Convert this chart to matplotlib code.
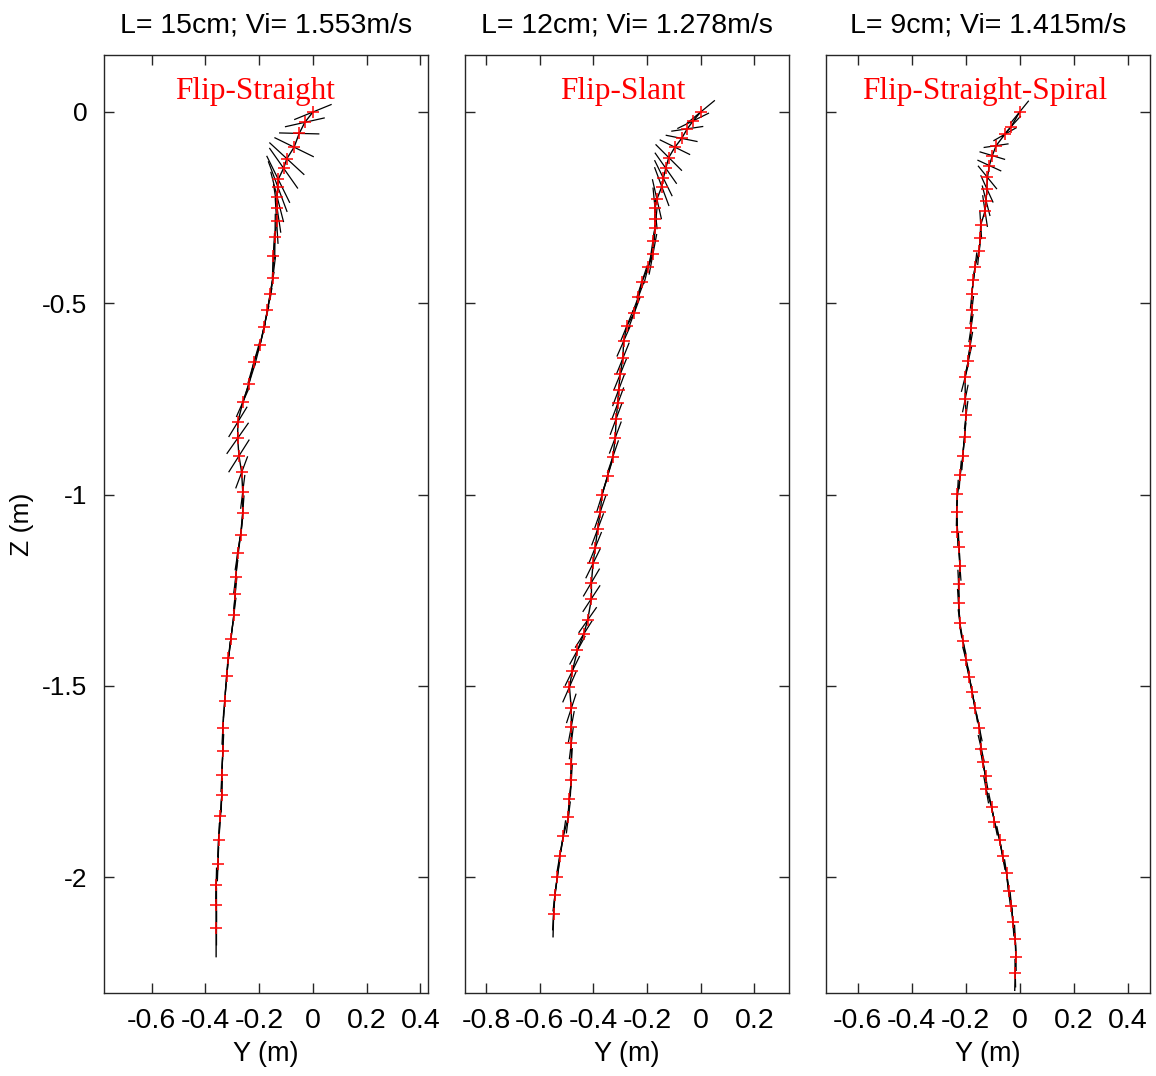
import numpy as np
import matplotlib
matplotlib.use('Agg')
import matplotlib.pyplot as plt
from matplotlib.collections import LineCollection

plt.rcParams['font.family'] = ['Liberation Sans', 'DejaVu Sans']
plt.rcParams['axes.unicode_minus'] = False

titles = ['L= 15cm; Vi= 1.553m/s', 'L= 12cm; Vi= 1.278m/s', 'L= 9cm; Vi= 1.415m/s']
modes = ['Flip-Straight', 'Flip-Slant', 'Flip-Straight-Spiral']

# panel 1 (L = 15 cm): marker positions (m), rod angle (deg), projected rod length (m)
y1 = [0.00, -0.030, -0.051, -0.070, -0.097, -0.109, -0.129, -0.131, -0.133, -0.133,
      -0.135, -0.141, -0.147, -0.149, -0.159, -0.169, -0.182, -0.197, -0.219, -0.238,
      -0.261, -0.279, -0.280, -0.275, -0.265, -0.261, -0.261, -0.269, -0.280, -0.287,
      -0.289, -0.294, -0.305, -0.314, -0.321, -0.328, -0.335, -0.335, -0.339, -0.339,
      -0.344, -0.351, -0.353, -0.360, -0.360, -0.360]
z1 = [0.00, -0.027, -0.056, -0.092, -0.122, -0.147, -0.176, -0.195, -0.222, -0.252,
      -0.285, -0.326, -0.376, -0.433, -0.476, -0.518, -0.563, -0.609, -0.653, -0.710,
      -0.759, -0.810, -0.853, -0.899, -0.942, -0.993, -1.047, -1.106, -1.154, -1.215,
      -1.260, -1.314, -1.378, -1.428, -1.475, -1.539, -1.609, -1.671, -1.733, -1.786,
      -1.840, -1.903, -1.966, -2.020, -2.072, -2.132]
ang1 = [16, 9, -1, -19, -33, -45, -55, -62, -70, -78,
        -85, 89, 86, 80, 76, 74, 72, 70, 68, 66,
        58, 49, 45, 48, 62, 80, 84, 80, 78, 80,
        82, 80, 80, 82, 84, 84, 86, 86, 86, 87,
        85, 86, 87, 88, 90, 90]
len1 = [0.145, 0.15, 0.15, 0.155, 0.155, 0.15, 0.15, 0.15, 0.14, 0.13,
        0.12, 0.12, 0.12, 0.12, 0.12, 0.12, 0.12, 0.12, 0.12, 0.12,
        0.09, 0.105, 0.115, 0.115, 0.095, 0.09, 0.09, 0.09, 0.09, 0.09,
        0.09, 0.09, 0.09, 0.09, 0.09, 0.09, 0.09, 0.09, 0.09, 0.09,
        0.09, 0.09, 0.09, 0.09, 0.09, 0.09]
end1 = (-0.360, -2.208)

# panel 2 (L = 12 cm)
y2 = [0.00, -0.028, -0.050, -0.071, -0.096, -0.119, -0.130, -0.139, -0.145, -0.163,
      -0.170, -0.170, -0.170, -0.178, -0.178, -0.195, -0.219, -0.232, -0.248, -0.275,
      -0.287, -0.290, -0.300, -0.306, -0.309, -0.315, -0.318, -0.327, -0.347, -0.368,
      -0.374, -0.384, -0.393, -0.401, -0.407, -0.407, -0.421, -0.436, -0.459, -0.478,
      -0.489, -0.482, -0.482, -0.482, -0.482, -0.482, -0.489, -0.493, -0.512, -0.525,
      -0.534, -0.543, -0.548]
z2 = [0.00, -0.023, -0.044, -0.069, -0.092, -0.119, -0.147, -0.173, -0.195, -0.228,
      -0.252, -0.280, -0.304, -0.337, -0.372, -0.404, -0.444, -0.483, -0.526, -0.559,
      -0.599, -0.644, -0.686, -0.727, -0.762, -0.802, -0.851, -0.901, -0.952, -1.002,
      -1.045, -1.091, -1.139, -1.180, -1.230, -1.272, -1.328, -1.365, -1.407, -1.461,
      -1.503, -1.559, -1.607, -1.650, -1.705, -1.747, -1.797, -1.844, -1.893, -1.945,
      -2.000, -2.048, -2.097]
ang2 = [30, 19, 6, -8, -19, -35, -45, -55, -62, -72,
        -82, 88, 82, 78, 75, 70, 65, 62, 62, 60,
        58, 60, 60, 62, 62, 62, 62, 64, 66, 66,
        64, 62, 60, 55, 50, 47, 45, 48, 52, 55,
        58, 65, 75, 80, 85, 85, 82, 80, 78, 76,
        78, 80, 85]
len2 = [0.122, 0.125, 0.12, 0.12, 0.12, 0.12, 0.115, 0.115, 0.115, 0.11,
        0.11, 0.11, 0.11, 0.11, 0.11, 0.095, 0.095, 0.095, 0.095, 0.095,
        0.095, 0.095, 0.095, 0.095, 0.095, 0.095, 0.095, 0.095, 0.095, 0.095,
        0.095, 0.095, 0.095, 0.095, 0.095, 0.095, 0.095, 0.095, 0.095, 0.095,
        0.095, 0.085, 0.085, 0.085, 0.085, 0.085, 0.085, 0.085, 0.085, 0.085,
        0.085, 0.085, 0.085]
end2 = (-0.550, -2.156)

# panel 3 (L = 9 cm)
y3 = [0.00, -0.031, -0.054, -0.087, -0.101, -0.112, -0.119, -0.121, -0.124, -0.128,
      -0.144, -0.146, -0.150, -0.165, -0.171, -0.177, -0.177, -0.180, -0.183, -0.190,
      -0.202, -0.201, -0.198, -0.204, -0.210, -0.220, -0.230, -0.233, -0.230, -0.224,
      -0.221, -0.226, -0.226, -0.221, -0.210, -0.198, -0.187, -0.176, -0.165, -0.149,
      -0.142, -0.137, -0.126, -0.124, -0.104, -0.093, -0.074, -0.063, -0.048, -0.041,
      -0.030, -0.025, -0.016, -0.014, -0.016]
z3 = [0.00, -0.038, -0.058, -0.088, -0.114, -0.140, -0.171, -0.201, -0.232, -0.259,
      -0.295, -0.330, -0.363, -0.404, -0.439, -0.477, -0.518, -0.565, -0.611, -0.651,
      -0.694, -0.749, -0.792, -0.849, -0.899, -0.949, -0.999, -1.045, -1.097, -1.137,
      -1.188, -1.234, -1.284, -1.337, -1.382, -1.433, -1.476, -1.516, -1.559, -1.609,
      -1.664, -1.698, -1.736, -1.771, -1.816, -1.855, -1.903, -1.945, -1.990, -2.036,
      -2.075, -2.118, -2.162, -2.208, -2.251]
ang3 = [41, 38, 22, 6, -12, -18, -41, -57, -70, -78,
        -85, 85, 82, 80, 80, 82, 80, 78, 76, 72,
        70, 74, 80, 82, 84, 84, 86, 88, -88, -86,
        -84, -86, -84, -80, -72, -70, -72, -74, -76, -74,
        -72, -74, -76, -76, -74, -74, -74, -76, -78, -80,
        -82, -84, -86, -88, -88]
len3 = [0.09, 0.09, 0.093, 0.093, 0.097, 0.093, 0.093, 0.085, 0.085, 0.085,
        0.075, 0.075, 0.075, 0.075, 0.075, 0.075, 0.075, 0.075, 0.075, 0.08,
        0.08, 0.075, 0.075, 0.075, 0.075, 0.075, 0.075, 0.075, 0.075, 0.075,
        0.075, 0.075, 0.075, 0.075, 0.075, 0.075, 0.075, 0.075, 0.075, 0.075,
        0.075, 0.075, 0.075, 0.075, 0.075, 0.075, 0.075, 0.075, 0.075, 0.075,
        0.075, 0.075, 0.075, 0.075, 0.075]
end3 = (-0.018, -2.296)

xticks = [[-0.6, -0.4, -0.2, 0, 0.2, 0.4],
          [-0.8, -0.6, -0.4, -0.2, 0, 0.2],
          [-0.6, -0.4, -0.2, 0, 0.2, 0.4]]
xticklabels = [['-0.6', '-0.4', '-0.2', '0', '0.2', '0.4'],
               ['-0.8', '-0.6', '-0.4', '-0.2', '0', '0.2'],
               ['-0.6', '-0.4', '-0.2', '0', '0.2', '0.4']]
yticks = [-2, -1.5, -1, -0.5, 0]
yticklabels = ['-2', '-1.5', '-1', '-0.5', '0']


def draw_panel(ax, y, z, ang, rl, end):
    y = np.array(y)
    z = np.array(z)
    a = np.radians(ang)
    h = np.array(rl) / 2
    dy = h * np.cos(a)
    dz = h * np.sin(a)
    segs = np.stack([np.column_stack([y - dy, z - dz]),
                     np.column_stack([y + dy, z + dz])], axis=1)
    ax.plot(np.append(y, end[0]), np.append(z, end[1]), color='k', lw=1.0, zorder=2)
    ax.add_collection(LineCollection(segs, colors='k', linewidths=0.9, zorder=2))
    ax.plot(y, z, '+', color='red', ms=8, mew=1.1, zorder=3)


W, H = 1156, 1076
fig = plt.figure(figsize=(W / 100, H / 100), dpi=100)

lefts = [104, 465, 826]
xlims = [(-0.777, 0.428), (-0.878, 0.329), (-0.717, 0.483)]
text_x = [0.466, 0.488, 0.491]
data = [(y1, z1, ang1, len1, end1), (y2, z2, ang2, len2, end2), (y3, z3, ang3, len3, end3)]

for i in range(3):
    ax = fig.add_axes([lefts[i] / W, 83 / H, 324 / W, 938 / H])
    draw_panel(ax, *data[i])
    ax.set_xlim(*xlims[i])
    ax.set_ylim(-2.303, 0.149)
    ax.set_xticks(xticks[i])
    ax.set_xticklabels(xticklabels[i])
    ax.set_yticks(yticks)
    ax.tick_params(direction='in', top=True, right=True, length=7, width=1,
                   labelsize=19, color='#262626', labelcolor='black')
    ax.tick_params(axis='x', pad=11, labelsize=20.5)
    ax.tick_params(axis='y', pad=12)
    for sp in ax.spines.values():
        sp.set_color('#262626')
        sp.set_linewidth(1.0)
    if i == 0:
        ax.set_yticklabels(yticklabels)
        ax.set_ylabel('Z (m)', fontsize=19, labelpad=6)
    else:
        ax.tick_params(axis='y', labelleft=False)
    ax.set_xlabel('Y (m)', fontsize=19.5, labelpad=5)
    ax.set_title(titles[i], fontsize=20.5, pad=16)
    ax.text(text_x[i], 0.953, modes[i], transform=ax.transAxes, ha='center',
            va='baseline', color='red', fontsize=22.5, family=['Liberation Serif'])

plt.savefig('out.png', dpi=100)
